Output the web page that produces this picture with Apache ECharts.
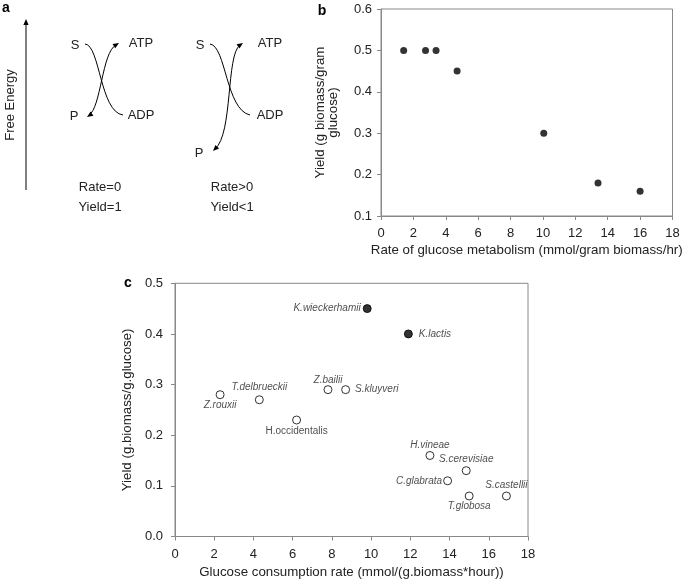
<!DOCTYPE html>
<html>
<head>
<meta charset="utf-8">
<script src="https://cdn.jsdelivr.net/npm/echarts@6/dist/echarts.min.js"></script>
<style>
html,body{margin:0;padding:0;background:#fff;}
#chart{width:685px;height:580px;}
</style>
</head>
<body>
<div id="chart"></div>
<script>
// Panel b data
var rateB = [1.4, 2.75, 3.4, 4.7, 10.05, 13.4, 16.0];
var yieldB = [0.5, 0.5, 0.5, 0.45, 0.3, 0.18, 0.16];
var xTicksB = [0, 2, 4, 6, 8, 10, 12, 14, 16, 18];

// Panel c data
var speciesC = ['K.wieckerhamii', 'K.lactis', 'Z.rouxii', 'T.delbrueckii', 'Z.bailii', 'S.kluyveri',
  'H.occidentalis', 'H.vineae', 'S.cerevisiae', 'C.glabrata', 'T.globosa', 'S.castellii'];
var rateC = [9.8, 11.9, 2.3, 4.3, 7.8, 8.7, 6.2, 13.0, 14.85, 13.9, 15.0, 16.9];
var yieldC = [0.45, 0.40, 0.28, 0.27, 0.29, 0.29, 0.23, 0.16, 0.13, 0.11, 0.08, 0.08];
var filledC = [true, true, false, false, false, false, false, false, false, false, false, false];

var FONT = 'Liberation Sans, Arial, Helvetica, sans-serif';
var AX = '#888';
var TXT = '#222';

// label placements (style only)
var labelPos = {
  'K.wieckerhamii': {position: 'left', distance: 2, offset: [0, 0]},
  'K.lactis': {position: 'right', distance: 6, offset: [0, 0]},
  'Z.rouxii': {position: 'bottom', distance: 1, offset: [-1, 0]},
  'T.delbrueckii': {position: 'top', distance: 3, offset: [2, 0]},
  'Z.bailii': {position: 'top', distance: 0, offset: [-3, 0]},
  'S.kluyveri': {position: 'right', distance: 5, offset: [0, 0]},
  'H.occidentalis': {position: 'bottom', distance: 2, offset: [23, 0], upright: true},
  'H.vineae': {position: 'top', distance: 1, offset: [-11, 0]},
  'S.cerevisiae': {position: 'top', distance: 2, offset: [1, 0]},
  'C.glabrata': {position: 'left', distance: 1, offset: [0, 0]},
  'T.globosa': {position: 'bottom', distance: 1, offset: [-8, 0]},
  'S.castellii': {position: 'top', distance: 1, offset: [-4, 0]}
};

var dataB = rateB.map(function (r, i) { return [r, yieldB[i]]; });
var dataC = speciesC.map(function (s, i) {
  var lp = labelPos[s];
  return {
    name: s,
    value: [rateC[i], yieldC[i]],
    itemStyle: {color: filledC[i] ? '#000' : '#fff', borderColor: '#000', borderWidth: 1},
    label: {
      show: true, formatter: s, position: lp.position, distance: lp.distance, offset: lp.offset,
      fontStyle: lp.upright ? 'normal' : 'italic', fontSize: 10, fontFamily: FONT, color: TXT
    }
  };
});

function axisCommon() {
  return {
    axisLine: {show: true, lineStyle: {color: AX, width: 1}},
    axisTick: {show: true, inside: false, length: 4, lineStyle: {color: AX}},
    splitLine: {show: false},
    axisLabel: {fontSize: 13, fontFamily: FONT, color: TXT},
    nameTextStyle: {fontSize: 13.3, fontFamily: FONT, color: TXT}
  };
}
function merge(a, b) { for (var k in b) a[k] = b[k]; return a; }

// Panel a diagram helpers
function arrowHead(tipX, tipY, dx, dy) {
  var len = Math.sqrt(dx * dx + dy * dy);
  var ux = dx / len, uy = dy / len;
  var L = 6, W = 2.6;
  var bx = tipX - ux * L, by = tipY - uy * L;
  return {
    type: 'polygon',
    shape: {points: [[tipX, tipY], [bx - uy * W, by + ux * W], [bx + uy * W, by - ux * W]]},
    style: {fill: '#000'}
  };
}
function curve(x1, y1, c1x, c1y, c2x, c2y, x2, y2) {
  return {
    type: 'bezierCurve',
    shape: {x1: x1, y1: y1, cpx1: c1x, cpy1: c1y, cpx2: c2x, cpy2: c2y, x2: x2, y2: y2},
    style: {stroke: '#000', lineWidth: 1, fill: null}
  };
}
function txt(s, x, y, opts) {
  var o = {
    type: 'text', x: x, y: y,
    style: {text: s, fontSize: 13, fontFamily: FONT, fill: TXT, align: 'center', verticalAlign: 'middle'}
  };
  if (opts) { for (var k in opts) o.style[k] = opts[k]; }
  return o;
}

var graphics = [
  // panel letters
  txt('a', 6, 8, {fontWeight: 'bold', fontSize: 14, fill: '#000'}),
  txt('b', 322, 11, {fontWeight: 'bold', fontSize: 14, fill: '#000'}),
  txt('c', 128, 283, {fontWeight: 'bold', fontSize: 14, fill: '#000'}),
  // free energy axis
  {type: 'line', shape: {x1: 26, y1: 190, x2: 26, y2: 24}, style: {stroke: '#000', lineWidth: 1}},
  arrowHead(26, 19, 0, -1),
  {type: 'text', x: 10, y: 105, rotation: Math.PI / 2,
   style: {text: 'Free Energy', fontSize: 13, fontFamily: FONT, fill: TXT, align: 'center', verticalAlign: 'middle'}},
  // left diagram
  txt('S', 75, 45), txt('ATP', 141, 43), txt('P', 74, 116), txt('ADP', 141, 115),
  curve(85, 44, 100, 45, 100, 112, 123, 115),
  curve(89, 115, 101, 108, 102, 52, 116, 45),
  arrowHead(87, 117, -12, 8),
  arrowHead(119, 43, 13, -8),
  txt('Rate=0', 100, 187), txt('Yield=1', 100, 207),
  // right diagram
  txt('S', 200, 45), txt('ATP', 270, 43), txt('P', 199, 153), txt('ADP', 270, 115),
  curve(210, 44, 226, 46, 226, 110, 250, 115),
  curve(215, 149, 233, 134, 226, 55, 240, 45),
  arrowHead(213, 151, -9, 9),
  arrowHead(243, 43, 12, -8),
  txt('Rate>0', 232, 187), txt('Yield<1', 232, 207)
];

var option = {
  animation: false,
  backgroundColor: '#fff',
  textStyle: {fontFamily: FONT},
  grid: [
    {left: 381, top: 9, width: 291.5, height: 207, show: true, borderColor: AX, borderWidth: 1, backgroundColor: 'transparent'},
    {left: 175, top: 283.3, width: 353, height: 253.4, show: true, borderColor: AX, borderWidth: 1, backgroundColor: 'transparent'}
  ],
  xAxis: [
    merge(axisCommon(), {
      type: 'value', gridIndex: 0, min: xTicksB[0], max: xTicksB[xTicksB.length - 1], interval: 2,
      name: 'Rate of glucose metabolism (mmol/gram biomass/hr)', nameLocation: 'middle', nameGap: 28
    }),
    merge(axisCommon(), {
      type: 'value', gridIndex: 1, min: 0, max: 18, interval: 2,
      name: 'Glucose consumption rate (mmol/(g.biomass*hour))', nameLocation: 'middle', nameGap: 29.5
    })
  ],
  yAxis: [
    merge(axisCommon(), {
      type: 'value', gridIndex: 0, min: 0.1, max: 0.6, interval: 0.1,
      name: 'Yield (g biomass/gram\nglucose)', nameLocation: 'middle', nameGap: 41
    }),
    merge(axisCommon(), {
      type: 'value', gridIndex: 1, min: 0, max: 0.5, interval: 0.1,
      name: 'Yield (g.biomass/g.glucose)', nameLocation: 'middle', nameGap: 38
    })
  ],
  series: [
    {type: 'scatter', xAxisIndex: 0, yAxisIndex: 0, data: dataB, symbol: 'circle', symbolSize: 7,
     itemStyle: {color: '#000'}},
    {type: 'scatter', xAxisIndex: 1, yAxisIndex: 1, data: dataC, symbol: 'circle', symbolSize: 8,
     labelLayout: {hideOverlap: false}}
  ],
  graphic: graphics
};
option.xAxis[0].axisLabel.margin = 11;
option.xAxis[1].axisLabel.margin = 11;
option.yAxis[0].axisLabel.margin = 9;
option.yAxis[0].axisLabel.formatter = function (v) { return v.toFixed(1); };
option.yAxis[1].axisLabel.margin = 12;
option.yAxis[1].axisLabel.formatter = function (v) { return v.toFixed(1); };
option.yAxis[0].nameTextStyle.lineHeight = 13;

var chart = echarts.init(document.getElementById('chart'), null, {renderer: 'canvas'});
chart.setOption(option);
</script>
</body>
</html>
